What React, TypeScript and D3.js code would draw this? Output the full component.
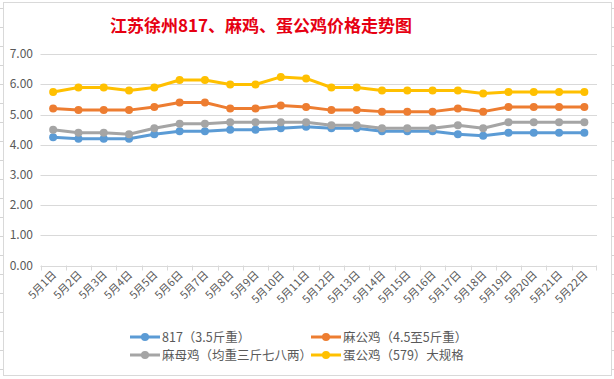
import React from "react";
import * as d3 from "d3";

const categories = ["5月1日","5月2日","5月3日","5月4日","5月5日","5月6日","5月7日","5月8日","5月9日","5月10日","5月11日","5月12日","5月13日","5月14日","5月15日","5月16日","5月17日","5月18日","5月19日","5月20日","5月21日","5月22日"];
const s817 = [4.25,4.2,4.2,4.2,4.35,4.45,4.45,4.5,4.5,4.55,4.6,4.55,4.55,4.45,4.45,4.45,4.35,4.3,4.4,4.4,4.4,4.4];
const sMaGong = [5.2,5.15,5.15,5.15,5.25,5.4,5.4,5.2,5.2,5.3,5.25,5.15,5.15,5.1,5.1,5.1,5.2,5.1,5.25,5.25,5.25,5.25];
const sMaMu = [4.5,4.4,4.4,4.35,4.55,4.7,4.7,4.75,4.75,4.75,4.75,4.65,4.65,4.55,4.55,4.55,4.65,4.55,4.75,4.75,4.75,4.75];
const sDanGong = [5.75,5.9,5.9,5.8,5.9,6.15,6.15,6.0,6.0,6.25,6.2,5.9,5.9,5.8,5.8,5.8,5.8,5.7,5.75,5.75,5.75,5.75];
const seriesNames = ["817（3.5斤重）","麻公鸡（4.5至5斤重）","麻母鸡（均重三斤七八两）","蛋公鸡（579）大规格"];
const seriesColors = ["#5b9bd5","#ed7d31","#a5a5a5","#ffc000"];
const yTicks = [0,1,2,3,4,5,6,7];
const title = "江苏徐州817、麻鸡、蛋公鸡价格走势图";

const W = 614, H = 379;
const left = 40.5, right = 597, top = 54.3, bottom = 265.5;
const font = "'Noto Sans CJK SC', 'Noto Sans', sans-serif";

export default function App() {
  const series = [s817, sMaGong, sMaMu, sDanGong];
  const x = d3.scaleBand<string>().domain(categories).range([left, right]);
  const y = d3.scaleLinear().domain([0, 7]).range([bottom, top]);
  const cx = (c: string) => (x(c) as number) + x.bandwidth() / 2;
  const line = d3.line<number>().x((_, i) => cx(categories[i])).y((d) => y(d));
  const rowTicks = d3.range(8, 376, 19);
  const legendPos = [
    [130, 337], [311, 337], [130, 355], [311, 355],
  ];
  return (
    <svg width={W} height={H} style={{ position: "absolute", left: 0, top: 0, background: "#fff" }} fontFamily={font}>
      {rowTicks.map((t) => (
        <line key={"r" + t} x1={0} x2={3} y1={t + 0.5} y2={t + 0.5} stroke="#d4d4d4" />
      ))}
      {rowTicks.map((t) => (
        <line key={"rr" + t} x1={611} x2={614} y1={t + 0.5} y2={t + 0.5} stroke="#d4d4d4" />
      ))}
      <rect x={3.5} y={2.5} width={608} height={373} fill="#fff" stroke="#d9d9d9" />
      <text x={261} y={31.5} textAnchor="middle" fontSize={17} fontWeight="bold" fill="#e60012" fontFamily="'Noto Sans CJK SC', serif">{title}</text>
      {yTicks.map((t) => (
        <g key={t}>
          <line x1={left} x2={right} y1={Math.round(y(t)) + 0.5} y2={Math.round(y(t)) + 0.5} stroke="#d9d9d9" />
          <text x={33} y={y(t) + 4} textAnchor="end" fontSize={12} fill="#595959">{t.toFixed(2)}</text>
        </g>
      ))}
      {categories.map((c, i) => (
        <line key={"t" + i} x1={Math.round(x(c) as number) + 0.5} x2={Math.round(x(c) as number) + 0.5} y1={bottom} y2={bottom + 5} stroke="#d9d9d9" />
      ))}
      <line x1={right - 0.5} x2={right - 0.5} y1={bottom} y2={bottom + 5} stroke="#d9d9d9" />
      {categories.map((c) => (
        <text key={"l" + c} transform={`translate(${cx(c) + 4},${bottom + 10}) rotate(-45)`} textAnchor="end" fontSize={11} fill="#595959">{c}</text>
      ))}
      {series.map((s, k) => (
        <g key={"s" + k}>
          <path d={line(s) as string} fill="none" stroke={seriesColors[k]} strokeWidth={3} strokeLinejoin="round" />
          {s.map((v, i) => (
            <circle key={i} cx={cx(categories[i])} cy={y(v)} r={4} fill={seriesColors[k]} />
          ))}
        </g>
      ))}
      {seriesNames.map((n, k) => (
        <g key={"lg" + k} transform={`translate(${legendPos[k][0]},${legendPos[k][1]})`}>
          <line x1={0} x2={30} y1={0} y2={0} stroke={seriesColors[k]} strokeWidth={3} />
          <circle cx={15} cy={0} r={4} fill={seriesColors[k]} />
          <text x={32} y={4.5} fontSize={12.5} fill="#595959">{n}</text>
        </g>
      ))}
    </svg>
  );
}
